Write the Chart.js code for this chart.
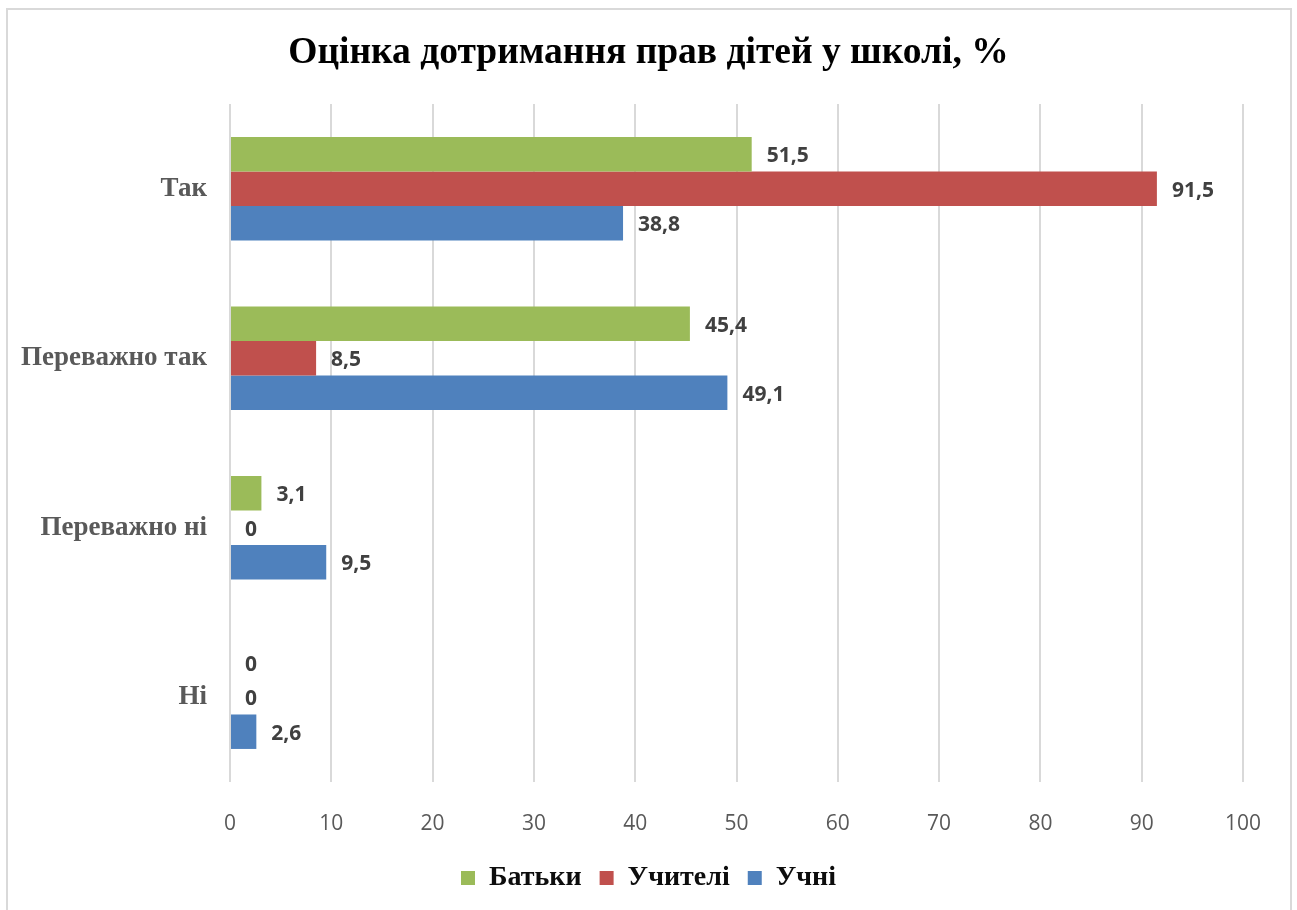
<!DOCTYPE html>
<html lang="uk">
<head>
<meta charset="utf-8">
<title>Оцінка дотримання прав дітей у школі</title>
<script src="https://cdn.jsdelivr.net/npm/chart.js@4.4.1/dist/chart.umd.min.js"></script>
<style>
    html, body { margin: 0; padding: 0; background: #fff; }
    #wrap { width: 1297px; height: 910px; }
</style>
</head>
<body>
<div id="wrap"><canvas id="rightsChart" width="1297" height="910"></canvas></div>
<script>
// ---------------- DATA ----------------
const answers = ["Так", "Переважно так", "Переважно ні", "Ні"];
const parents = [51.5, 45.4, 3.1, 0];
const teachers = [91.5, 8.5, 0, 0];
const pupils = [38.8, 49.1, 9.5, 2.6];
const xTicks = [0, 10, 20, 30, 40, 50, 60, 70, 80, 90, 100];

// ---------------- VALUE LABELS NEXT TO BARS ----------------
const barValueLabels = {
    id: "barValueLabels",
    afterDatasetsDraw(chart) {
        const ctx = chart.ctx;
        ctx.save();
        ctx.font = "bold 21px 'Open Sans'";
        ctx.fillStyle = "#404040";
        ctx.textAlign = "left";
        ctx.textBaseline = "middle";
        chart.data.datasets.forEach((ds, i) => {
            chart.getDatasetMeta(i).data.forEach((bar, j) => {
                const text = String(ds.data[j]).replace(".", ",");
                ctx.fillText(text, bar.x + 15, bar.y + 2);
            });
        });
        ctx.restore();
    }
};

// ---------------- OUTER FRAME ----------------
const chartFrame = {
    id: "chartFrame",
    beforeDraw(chart) {
        const ctx = chart.ctx;
        ctx.save();
        ctx.strokeStyle = "#d9d9d9";
        ctx.lineWidth = 2;
        ctx.strokeRect(7, 9, 1284, 920);
        ctx.restore();
    }
};

new Chart(document.getElementById("rightsChart"), {
    type: "bar",
    data: {
        labels: answers,
        datasets: [
            { label: "Батьки", data: parents, backgroundColor: "#9bbb59" },
            { label: "Учителі", data: teachers, backgroundColor: "#c0504d" },
            { label: "Учні", data: pupils, backgroundColor: "#4f81bd" }
        ]
    },
    options: {
        indexAxis: "y",
        responsive: false,
        animation: false,
        categoryPercentage: 0.61,
        barPercentage: 1,
        layout: { padding: { left: 0, right: 0, top: 0, bottom: 8 } },
        plugins: {
            title: {
                display: true,
                text: "Оцінка дотримання прав дітей у школі, %",
                color: "#000",
                font: { family: "'Liberation Serif'", size: 37.5, weight: "bold" },
                padding: { top: 31, bottom: 28 }
            },
            legend: {
                position: "bottom",
                labels: {
                    boxWidth: 14,
                    boxHeight: 14,
                    padding: 18,
                    color: "#0d0d0d",
                    font: { family: "'Liberation Serif'", size: 28, weight: "bold" }
                }
            },
            tooltip: { enabled: false }
        },
        scales: {
            x: {
                min: 0,
                max: 100,
                afterBuildTicks: (axis) => { axis.ticks = xTicks.map(v => ({ value: v })); },
                afterFit: (axis) => { axis.height = 64; },
                grid: { color: "#d9d9d9", lineWidth: 2, drawTicks: false },
                border: { display: false },
                ticks: {
                    padding: 29,
                    color: "#595959",
                    font: { family: "'Open Sans'", size: 21 }
                }
            },
            y: {
                afterFit: (axis) => { axis.width = 230; },
                grid: { display: false, drawTicks: false },
                border: { display: false },
                ticks: {
                    padding: 23,
                    color: "#595959",
                    font: { family: "'Liberation Serif'", size: 27, weight: "bold" }
                }
            },
            // empty right-hand strip, keeps room after the 100 tick
            yRight: {
                type: "category",
                position: "right",
                afterFit: (axis) => { axis.width = 54; },
                grid: { display: false, drawTicks: false },
                border: { display: false },
                ticks: { display: false }
            }
        }
    },
    plugins: [chartFrame, barValueLabels]
});
</script>
</body>
</html>
